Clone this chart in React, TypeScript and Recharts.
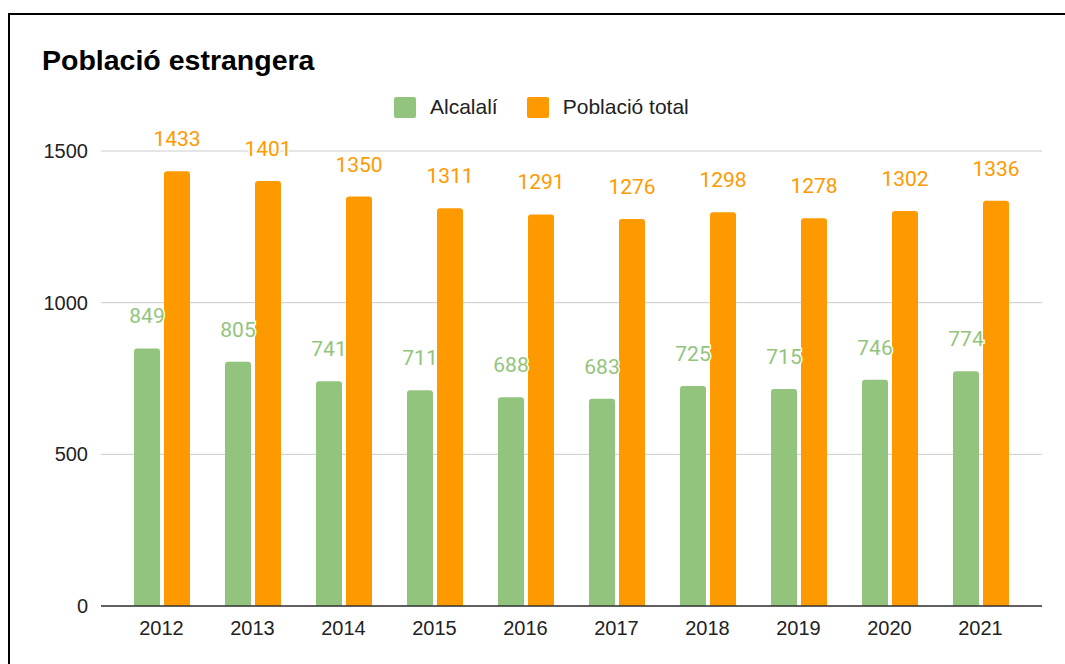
import React from "react";
import {
  Bar,
  BarChart,
  CartesianGrid,
  LabelList,
  XAxis,
  YAxis,
} from "recharts";

const years = ["2012", "2013", "2014", "2015", "2016", "2017", "2018", "2019", "2020", "2021"];
const alcalali = [849, 805, 741, 711, 688, 683, 725, 715, 746, 774];
const poblacioTotal = [1433, 1401, 1350, 1311, 1291, 1276, 1298, 1278, 1302, 1336];
const yTicks = [0, 500, 1000, 1500];

const GREEN = "#93c47d";
const ORANGE = "#ff9900";
const AXIS_FONT = "Arial, 'Liberation Sans', sans-serif";

const data = years.map((year, i) => ({
  year,
  alcalali: alcalali[i],
  total: poblacioTotal[i],
}));

// value label above each bar, with a white halo like the original
const makeLabel = (color: string) => (props: any) => {
  const { x, y, width, value } = props;
  return (
    <text
      x={Number(x) + Number(width) / 2}
      y={Number(y) - 25}
      textAnchor="middle"
      fill={color}
      stroke="#fff"
      strokeWidth={3}
      paintOrder="stroke"
      style={{ fontFamily: "Roboto, sans-serif", fontSize: 21 }}
    >
      {value}
    </text>
  );
};

export default function App() {
  return (
    <div
      style={{
        position: "fixed",
        left: 0,
        top: 0,
        width: 1065,
        height: 664,
        overflow: "hidden",
        background: "#fff",
      }}
    >
      {/* frame, runs off the right and bottom edges */}
      <div
        style={{
          position: "absolute",
          left: 8,
          top: 13,
          width: 1200,
          height: 800,
          border: "2px solid #000",
        }}
      />
      <div
        style={{
          position: "absolute",
          left: 42,
          top: 46,
          fontFamily: AXIS_FONT,
          fontWeight: "bold",
          fontSize: 28.5,
          lineHeight: "28px",
          color: "#000",
          whiteSpace: "nowrap",
        }}
      >
        Població estrangera
      </div>
      <div
        style={{
          position: "absolute",
          left: 394,
          top: 95,
          display: "flex",
          alignItems: "center",
          fontFamily: AXIS_FONT,
          fontSize: 21,
          color: "#222",
          whiteSpace: "nowrap",
        }}
      >
        <span style={{ width: 22, height: 21, background: GREEN, borderRadius: 2, marginRight: 14 }} />
        <span style={{ marginRight: 29 }}>Alcalalí</span>
        <span style={{ width: 22, height: 21, background: ORANGE, borderRadius: 2, marginRight: 14 }} />
        <span>Població total</span>
      </div>
      <BarChart
        width={1065}
        height={664}
        data={data}
        margin={{ top: 151, right: 23, left: 41, bottom: 28 }}
        barSize={26}
        barGap={4}
        style={{ position: "absolute", left: 0, top: 0 }}
      >
        <CartesianGrid stroke="#ccc" vertical={false} />
        <XAxis
          dataKey="year"
          padding={{ left: 15, right: 16 }}
          tickLine={false}
          axisLine={{ stroke: "#333", strokeWidth: 1.5 }}
          tickMargin={9}
          tick={{ fill: "#222", fontSize: 20, fontFamily: AXIS_FONT }}
          height={30}
        />
        <YAxis
          domain={[0, 1500]}
          ticks={yTicks}
          axisLine={false}
          tickLine={false}
          tickMargin={7}
          width={60}
          tick={{ fill: "#222", fontSize: 20, fontFamily: AXIS_FONT }}
        />
        <Bar dataKey="alcalali" fill={GREEN} radius={[3, 3, 0, 0]} isAnimationActive={false}>
          <LabelList dataKey="alcalali" content={makeLabel(GREEN)} />
        </Bar>
        <Bar dataKey="total" fill={ORANGE} radius={[3, 3, 0, 0]} isAnimationActive={false}>
          <LabelList dataKey="total" content={makeLabel(ORANGE)} />
        </Bar>
      </BarChart>
    </div>
  );
}
